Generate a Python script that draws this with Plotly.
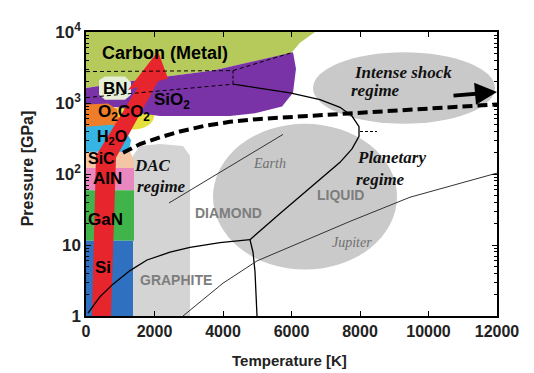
import math
import plotly.graph_objects as go

# ---------------- axes ----------------
x_tickvals = [0, 2000, 4000, 6000, 8000, 10000, 12000]
x_ticktext = ["0", "2000", "4000", "6000", "8000", "10000", "12000"]
y_tickvals = [1, 10, 100, 1000, 10000]
y_ticktext = ["1", "10", "10<sup>2</sup>", "10<sup>3</sup>", "10<sup>4</sup>"]

# ---------------- filled regions: (T [K], P [GPa]) ----------------
carbon_metal_T = [0, 6686, 6248, 5985, 3708, 1285, 0]
carbon_metal_P = [10000, 10000, 7080, 5020, 2860, 2020, 1620]

sio2_T = [0, 1285, 3708, 6044, 6131, 6044, 5723, 4934, 4204, 2161, 1577, 993, 0]
sio2_P = [1620, 2020, 2860, 5180, 3040, 1390, 896, 720, 655, 655, 720, 869, 896]

bn_T = [380, 555, 1139, 1314, 1314, 1139, 555, 380]
bn_P = [2089, 2366, 2366, 1960, 1306, 1115, 1115, 1306]

o2_T = [0, 642, 905, 963, 788, 0]
o2_P = [955, 985, 816, 597, 436, 410]

h2o_T = [0, 759, 1139, 1314, 1255, 934, 0]
h2o_P = [464, 494, 410, 299, 212, 181, 181]

sic_T = [0, 1285, 1401, 1401, 0]
sic_P = [206, 206, 160, 121, 121]

aln_T = [0, 1401, 1401, 0]
aln_P = [121, 121, 58.8, 58.8]

gan_T = [0, 1401, 1401, 0]
gan_P = [58.8, 58.8, 11.5, 11.5]

si_T = [0, 1372, 1372, 0]
si_P = [11.5, 11.5, 1, 1]

dac_T = [1372, 1372, 1577, 2161, 2832, 3036, 3036]
dac_P = [1, 181, 248, 264, 248, 181, 1]

arrow_T = [175, 292, 1518, 1226, 2102, 2394, 2102, 876, 730]
arrow_P = [1, 181, 1680, 1530, 5350, 2220, 2020, 170, 1]

# ellipses: (T0, T1, P0, P1)
co2_box = (759, 1985, 423, 1016)
planet_box = (3708, 9080, 4.5, 510)
shock_box = (6628, 11942, 510, 5180)

# ---------------- lines ----------------
hugoniot_T = [1080, 1577, 2161, 2745, 3474, 4204, 5080, 5956, 7620, 9839, 12000]
hugoniot_P = [199, 264, 329, 397, 479, 543, 597, 635, 720, 816, 955]

upper_dash_T = [0, 4292, 6044]
upper_dash_P = [2770, 2860, 5180]
lower_dash_T = [0, 4292]
lower_dash_P = [1190, 1840]
vert_dash_T = [4292, 4292]
vert_dash_P = [2860, 1840]
short_dash_T = [8000, 8496]
short_dash_P = [397, 397]

melt_T = [4292, 5956, 6832, 7416, 7766, 7971, 7971, 7766, 7416, 6540, 5664, 4788]
melt_P = [1840, 1390, 1115, 869, 655, 464, 340, 226, 146, 64.5, 27.7, 11.9]

gd_T = [58, 409, 788, 1285, 1781, 2453, 3036, 3912, 4788]
gd_P = [1.10, 1.87, 2.81, 4.36, 6.15, 7.91, 9.25, 10.8, 11.9]

gl_T = [4788, 4876, 4934, 4993]
gl_P = [11.9, 7.91, 4.23, 1]

earth_T = [2423, 5752]
earth_P = [39.1, 361]

jupiter_T = [2832, 4000, 4993, 6248, 7708, 9460, 12000]
jupiter_P = [1, 2.90, 5.97, 10.8, 21.5, 47.1, 103]

shock_arrow = (10686, 1265, 12000, 1430)

# ---------------- labels: text, T, P ----------------
black_labels = [
    ("Carbon (Metal)", 2307, 5020, 18),
    ("BN", 847, 1620, 17),
    ("SiO<sub>2</sub>", 2511, 1080, 17),
    ("O<sub>2</sub>CO<sub>2</sub>", 1110, 720, 17),
    ("H<sub>2</sub>O", 759, 325, 16),
    ("SiC", 467, 168, 16),
    ("AIN", 642, 85.5, 17),
    ("GaN", 555, 22.9, 17),
    ("Si", 496, 4.79, 17),
]
gray_sans_labels = [
    ("DIAMOND", 4146, 28.6),
    ("LIQUID", 7445, 50.3),
    ("GRAPHITE", 2628, 3.19),
]
gray_serif_labels = [
    ("Earth", 5343, 141),
    ("Jupiter", 7766, 10.8),
]
regime_labels = [
    ("DAC", 1927, 132),
    ("regime", 2190, 66.5),
    ("Planetary", 8905, 170),
    ("regime", 8584, 82.8),
    ("Intense shock", 9255, 2685),
    ("regime", 8467, 1479),
]

fig = go.Figure()


def add_fill(T, P, color):
    fig.add_trace(go.Scatter(x=T, y=P, mode="lines", fill="toself",
                             fillcolor=color, line=dict(width=0, color=color),
                             hoverinfo="skip", showlegend=False))


def add_line(T, P, width=1.2, dash="solid", color="black"):
    fig.add_trace(go.Scatter(x=T, y=P, mode="lines",
                             line=dict(width=width, dash=dash, color=color),
                             hoverinfo="skip", showlegend=False))


add_fill(dac_T, dac_P, "#d4d4d4")
add_fill(carbon_metal_T, carbon_metal_P, "#b6ca5c")
add_fill(sio2_T, sio2_P, "#7a33a6")
add_fill(bn_T, bn_P, "#e6eed6")
add_fill(o2_T, o2_P, "#ee7d2a")
add_fill(h2o_T, h2o_P, "#36b4e4")
add_fill(sic_T, sic_P, "#f5c6a6")
add_fill(aln_T, aln_P, "#e887c0")
add_fill(gan_T, gan_P, "#41b34b")
add_fill(si_T, si_P, "#2f70c1")
add_fill(arrow_T, arrow_P, "#e6262c")

add_line(upper_dash_T, upper_dash_P, 1, "4px,3px")
add_line(lower_dash_T, lower_dash_P, 1, "4px,3px")
add_line(vert_dash_T, vert_dash_P, 1, "3px,2px")
add_line(short_dash_T, short_dash_P, 1, "3px,2px")
add_line(melt_T, melt_P, 1.3)
add_line(gd_T, gd_P, 1.3)
add_line(gl_T, gl_P, 1.3)
add_line(earth_T, earth_P, 1.0, color="#333333")
add_line(jupiter_T, jupiter_P, 1.0, color="#333333")
add_line(hugoniot_T, hugoniot_P, 4, "10px,5px")

shapes = []
for box, col in [(co2_box, "#e6e03c"), (planet_box, "#cacaca"), (shock_box, "#c9c9c9")]:
    shapes.append(dict(type="circle", xref="x", yref="y", x0=box[0], x1=box[1],
                       y0=box[2], y1=box[3], fillcolor=col, line=dict(width=0),
                       layer="below"))

annotations = []
for txt, T, P, sz in black_labels:
    annotations.append(dict(x=T, y=math.log10(P), text=txt, showarrow=False,
                            xanchor="center", yanchor="middle",
                            font=dict(family="Liberation Sans, Arial", size=sz,
                                      color="black", weight="bold")))
for txt, T, P in gray_sans_labels:
    annotations.append(dict(x=T, y=math.log10(P), text=txt, showarrow=False,
                            xanchor="center", yanchor="middle",
                            font=dict(family="Liberation Sans, Arial", size=14,
                                      color="#7d7d7d", weight="bold")))
for txt, T, P in gray_serif_labels:
    annotations.append(dict(x=T, y=math.log10(P), text=txt, showarrow=False,
                            xanchor="center", yanchor="middle",
                            font=dict(family="Liberation Serif, Times New Roman", size=14,
                                      color="#707070", style="italic")))
for txt, T, P in regime_labels:
    annotations.append(dict(x=T, y=math.log10(P), text=txt, showarrow=False,
                            xanchor="center", yanchor="middle",
                            font=dict(family="Liberation Serif, Times New Roman", size=17,
                                      color="#111111", weight="bold", style="italic")))

annotations.append(dict(x=shock_arrow[2], y=math.log10(shock_arrow[3]),
                        ax=shock_arrow[0], ay=math.log10(shock_arrow[1]),
                        xref="x", yref="y", axref="x", ayref="y", text="",
                        showarrow=True, arrowhead=2, arrowsize=1.1, arrowwidth=4,
                        arrowcolor="black"))

annotations.append(dict(x=-0.1436, y=0.52, xref="paper", yref="paper",
                        xanchor="center", yanchor="middle",
                        text="Pressure [GPa]", textangle=-90, showarrow=False,
                        font=dict(family="Liberation Sans, Arial", size=16,
                                  color="#222222", weight="bold")))
annotations.append(dict(x=0.496, y=-0.156, xref="paper", yref="paper",
                        xanchor="center", yanchor="middle",
                        text="Temperature [K]", showarrow=False,
                        font=dict(family="Liberation Sans, Arial", size=15,
                                  color="#222222", weight="bold")))

xtickfont = dict(family="Liberation Sans, Arial", size=16, color="#222222", weight="bold")
ytickfont = dict(family="Liberation Sans, Arial", size=17, color="#222222", weight="bold")

# page body has an 8px default margin: figure sized to sit inside the window
fig.update_layout(
    width=526, height=365,
    margin=dict(l=78, r=37, t=14, b=57),
    paper_bgcolor="white", plot_bgcolor="white",
    showlegend=False,
    shapes=shapes,
    annotations=annotations,
    xaxis=dict(range=[0, 12000], tickvals=x_tickvals, ticktext=x_ticktext,
               ticks="inside", ticklen=5,
               tickwidth=1.2, tickcolor="black", showline=True, linecolor="black",
               linewidth=1.5, mirror="ticks", showgrid=False, zeroline=False,
               tickfont=xtickfont),
    yaxis=dict(type="log", range=[0, 4], tickvals=y_tickvals, ticktext=y_ticktext,
               ticks="inside", ticklen=5, tickwidth=1.2, tickcolor="black",
               showline=True, linecolor="black", linewidth=1.5, mirror="ticks",
               showgrid=False, zeroline=False, tickfont=ytickfont,
               minor=dict(ticks="inside", ticklen=3, tickcolor="black",
                          dtick="D1", showgrid=False)),
)

fig.write_html("out.html")
